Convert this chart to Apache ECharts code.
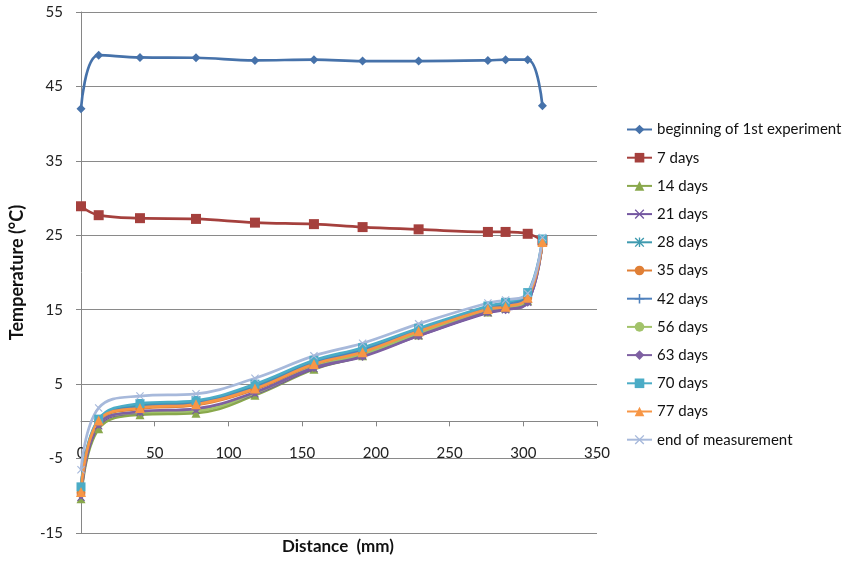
<!DOCTYPE html>
<html>
<head>
<meta charset="utf-8">
<script src="https://cdn.jsdelivr.net/npm/echarts@6/dist/echarts.min.js"></script>
<style>
html,body{margin:0;padding:0;background:#fff;}
#chart{width:851px;height:561px;}
</style>
</head>
<body>
<div id="chart"></div>
<script>
// ---- data ----
const distances = [0, 12, 40, 78, 118, 158, 191, 229, 276, 288, 303, 313];
const seriesNames = ['beginning of 1st experiment','7 days','14 days','21 days','28 days','35 days','42 days','56 days','63 days','70 days','77 days','end of measurement'];
const beginning = [42.0, 49.2, 48.9, 48.85, 48.5, 48.6, 48.4, 48.4, 48.5, 48.6, 48.6, 42.4];
const days7  = [28.9, 27.7, 27.3, 27.2, 26.7, 26.5, 26.1, 25.8, 25.45, 25.45, 25.2, 24.3];
const days14 = [-10.4, -1.0, 0.9, 1.1, 3.5, 7.0, 8.8, 11.6, 14.7, 15.2, 16.2, 24.2];
const days21 = [-10.2, -0.6, 1.2, 1.5, 3.7, 7.1, 8.8, 11.5, 14.6, 15.0, 16.0, 24.2];
const days28 = [-9.0, 0.0, 2.2, 2.6, 4.8, 8.0, 9.7, 12.3, 15.4, 15.9, 17.0, 24.4];
const days35 = [-9.6, 0.0, 1.7, 2.2, 4.3, 7.6, 9.3, 12.0, 15.0, 15.4, 16.6, 24.1];
const days42 = [-9.2, 0.2, 1.9, 2.4, 4.5, 7.8, 9.5, 12.2, 15.2, 15.6, 16.8, 24.3];
const days56 = [-10.0, -0.3, 1.2, 1.4, 3.8, 7.3, 9.0, 11.8, 14.8, 15.3, 16.3, 24.2];
const days63 = [-9.9, -0.4, 1.3, 1.7, 3.9, 7.2, 8.7, 11.5, 14.7, 15.0, 16.0, 24.1];
const days70 = [-8.8, 0.3, 2.4, 2.8, 5.0, 8.2, 9.9, 12.5, 15.5, 16.0, 17.3, 24.5];
const days77 = [-9.5, 0.1, 1.8, 2.3, 4.4, 7.7, 9.3, 12.1, 15.1, 15.4, 16.6, 24.1];
const endMeas = [-6.5, 1.8, 3.4, 3.7, 5.8, 8.8, 10.5, 13.1, 15.9, 16.3, 17.2, 24.7];
const allValues = [beginning, days7, days14, days21, days28, days35, days42, days56, days63, days70, days77, endMeas];
const yMin = -15, yMax = 55, yStep = 10;
const xMin = 0, xMax = 350, xStep = 50;

// ---- styles ----
const X_PATH = 'path://M0,1L1,0L5,4L9,0L10,1L6,5L10,9L9,10L5,6L1,10L0,9L4,5Z';
const PLUS_PATH = 'path://M4.2,0H5.8V4.2H10V5.8H5.8V10H4.2V5.8H0V4.2H4.2Z';
const STAR_PATH = 'path://M0,1L1,0L5,4L9,0L10,1L6,5L10,9L9,10L5,6L1,10L0,9L4,5Z M4.3,0H5.7V10H4.3Z';
const colors = ['#4672AA','#A5403D','#89A84C','#7356A0','#3F9AAF','#E07F35','#4F81BD','#A2C36A','#7E60A2','#4BACC6','#F79646','#A7B9DB'];
const symbols = ['diamond','rect','triangle',X_PATH,STAR_PATH,'circle',PLUS_PATH,'none','diamond','rect','triangle',X_PATH];
const sizes = [9, 10, 9, 8, 8, 9, 8, 0, 9, 9, 10, 8];

const series = allValues.map((vals, i) => ({
  name: seriesNames[i],
  type: 'line',
  smooth: 0.4,
  data: distances.map((d, j) => [d, vals[j]]),
  symbol: symbols[i],
  symbolSize: sizes[i],
  showSymbol: symbols[i] !== 'none',
  lineStyle: { color: colors[i], width: 2.7 },
  itemStyle: { color: colors[i] },
  emphasis: { disabled: true },
  animation: false
}));

const gridTop = 12, gridBottom = 28, H = 561;
const plotH = H - gridTop - gridBottom;
const xAxisOffset = -plotH * (0 - yMin) / (yMax - yMin);

const FONT = 'Lato';
const chart = echarts.init(document.getElementById('chart'), null, { renderer: 'canvas' });
chart.setOption({
  backgroundColor: '#fff',
  animation: false,
  textStyle: { fontFamily: FONT },
  grid: { left: 76.5, right: 254, top: gridTop, bottom: gridBottom, containLabel: false },
  xAxis: {
    type: 'value', min: xMin, max: xMax, interval: xStep,
    position: 'bottom', offset: xAxisOffset,
    axisLine: { show: true, onZero: false, lineStyle: { color: '#868686', width: 1 } },
    axisTick: { show: true, inside: false, length: 5, lineStyle: { color: '#868686' } },
    axisLabel: { fontSize: 15, color: '#222', margin: 24, fontFamily: FONT },
    splitLine: { show: false }
  },
  yAxis: {
    type: 'value', min: yMin, max: yMax, interval: yStep,
    name: 'Temperature (°C)', nameLocation: 'middle', nameGap: 55,
    nameTextStyle: { fontSize: 18, fontWeight: 'bold', color: '#111', fontFamily: FONT },
    axisLine: { show: true, onZero: false, lineStyle: { color: '#868686', width: 1 } },
    axisTick: { show: true, inside: false, length: 5, lineStyle: { color: '#868686' } },
    axisLabel: { fontSize: 15, color: '#222', margin: 18, fontFamily: FONT },
    splitLine: { show: true, lineStyle: { color: '#8a8a8a', width: 1 } }
  },
  legend: {
    orient: 'vertical', left: 621, top: 117,
    itemWidth: 25, itemHeight: 12, itemGap: 13.2,
    textStyle: { fontSize: 15, color: '#111', fontFamily: FONT },
    data: seriesNames
  },
  graphic: [{
    type: 'text', left: 282, top: 538,
    style: { text: 'Distance  (mm)', font: 'bold 17px ' + FONT, fill: '#111' }
  }],
  series: series
});
</script>
</body>
</html>
